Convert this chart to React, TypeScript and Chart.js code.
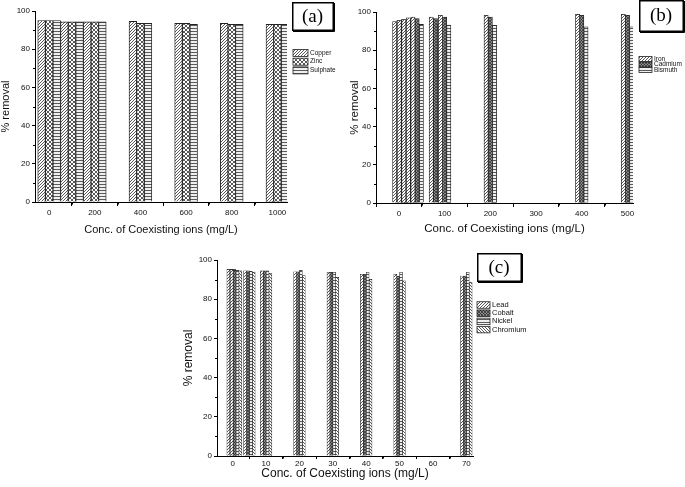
import React, { useEffect, useRef } from 'react';
import { Chart, registerables } from 'chart.js';
Chart.register(...registerables);

const FONT = "'Liberation Sans', Arial, sans-serif";
const SERIF = "'Liberation Serif', 'Times New Roman', serif";

// ---------- Panel (a) ----------
const concA = [0, 100, 200, 400, 600, 800, 1000];
const copperA = [95, 94.3, 94.3, 94.6, 93.5, 93.5, 93];
const zincA = [95, 94.3, 94.3, 93.5, 93.5, 93, 93];
const sulphateA = [95, 94.3, 94.3, 93.5, 93, 93, 93];
const xTicksA = [0, 200, 400, 600, 800, 1000];
const xMinorA = [100, 300, 500, 700, 900];

// ---------- Panel (b) ----------
const concB = [0, 10, 20, 30, 40, 80, 100, 200, 400, 500];
const ironB = [95, 95.5, 96, 97, 97.4, 97.4, 98.3, 98.3, 98.8, 98.8];
const cadmiumB = [95.5, 96, 95.5, 96.5, 96.5, 96.5, 97.4, 97.4, 98.3, 98.3];
const bismuthB = [95.5, 95, 94.5, 94, 93.5, 93.5, 93.2, 93, 92.2, 92.2];
const xTicksB = [0, 100, 200, 300, 400, 500];
const xMinorB = [50, 150, 250, 350, 450];

// ---------- Panel (c) ----------
const concC = [0, 1, 5, 10, 20, 30, 40, 50, 70];
const leadC = [95.2, 95, 94.5, 94.5, 94, 93.7, 92.7, 92.7, 91.8];
const cobaltC = [95.2, 94.7, 94.5, 94.5, 94, 93.7, 92.7, 91.8, 91.8];
const nickelC = [95.2, 94.7, 94.2, 94.5, 94.7, 93.7, 93.7, 93.7, 93.7];
const chromiumC = [94.7, 94.5, 93.8, 93.2, 92, 91.1, 90.1, 89.4, 88.6];
const xTicksC = [0, 10, 20, 30, 40, 50, 60, 70];
const xMinorC = [5, 15, 25, 35, 45, 55, 65];

const yTicks = [0, 20, 40, 60, 80, 100];
const yMinor = [10, 30, 50, 70, 90];

const X_TITLE = 'Conc. of Coexisting ions (mg/L)';
const Y_TITLE = '% removal';

type Kind = 'slash' | 'cross' | 'horiz' | 'dense' | 'back';

function makePattern(kind: Kind): CanvasPattern {
  const t = kind === 'cross' ? 4 : 3;
  const c = document.createElement('canvas');
  c.width = t;
  c.height = t;
  const g = c.getContext('2d')!;
  g.fillStyle = kind === 'dense' ? '#8a8a8a' : '#ffffff';
  g.fillRect(0, 0, t, t);
  g.strokeStyle = kind === 'dense' ? '#2a2a2a' : '#5a5a5a';
  g.lineWidth = kind === 'dense' ? 0.7 : kind === 'horiz' ? 1.2 : 1;
  const slash = () => {
    g.moveTo(0, t); g.lineTo(t, 0);
    g.moveTo(-t / 2, t / 2); g.lineTo(t / 2, -t / 2);
    g.moveTo(t / 2, t * 1.5); g.lineTo(t * 1.5, t / 2);
  };
  const back = () => {
    g.moveTo(0, 0); g.lineTo(t, t);
    g.moveTo(-t / 2, t / 2); g.lineTo(t / 2, t * 1.5);
    g.moveTo(t / 2, -t / 2); g.lineTo(t * 1.5, t / 2);
  };
  g.beginPath();
  if (kind === 'slash') slash();
  else if (kind === 'back') back();
  else if (kind === 'cross' || kind === 'dense') { slash(); back(); }
  else if (kind === 'horiz') { g.moveTo(0, 1.5); g.lineTo(t, 1.5); }
  g.stroke();
  return g.createPattern(c, 'repeat')!;
}

type Series = { label: string; values: number[]; kind: Kind };
type PanelCfg = {
  xs: number[];
  series: Series[];
  xMin: number; xMax: number;
  xTicks: number[]; xMinor: number[];
  barThickness: number; borderWidth: number;
  yWidth: number; xHeight: number;
  padTop: number; padRight: number;
  tickSize: number; titleSize: number;
  xTickLen: number; xTickPad: number;
  yTitlePad: number; xTitlePad: number;
  tag: string; tagBox: [number, number, number, number]; tagSize: number;
  legend: { x: number; y0: number; dy: number; w: number; h: number; font: number };
};

const panelA: PanelCfg = {
  xs: concA,
  series: [
    { label: 'Copper', values: copperA, kind: 'slash' },
    { label: 'Zinc', values: zincA, kind: 'cross' },
    { label: 'Sulphate', values: sulphateA, kind: 'horiz' },
  ],
  xMin: -62, xMax: 1042, xTicks: xTicksA, xMinor: xMinorA,
  barThickness: 7.6, borderWidth: 0.9,
  yWidth: 35, xHeight: 38, padTop: 11, padRight: 53,
  tickSize: 8, titleSize: 11, xTickLen: 4, xTickPad: 2, yTitlePad: 0, xTitlePad: 5,
  tag: '(a)', tagBox: [292, 2, 43, 30], tagSize: 19,
  legend: { x: 293, y0: 53, dy: 8.7, w: 15, h: 7, font: 6.5 },
};

const panelB: PanelCfg = {
  xs: concB,
  series: [
    { label: 'Iron', values: ironB, kind: 'slash' },
    { label: 'Cadmium', values: cadmiumB, kind: 'dense' },
    { label: 'Bismuth', values: bismuthB, kind: 'horiz' },
  ],
  xMin: -50, xMax: 512, xTicks: xTicksB, xMinor: xMinorB,
  barThickness: 4.2, borderWidth: 0.8,
  yWidth: 36, xHeight: 37, padTop: 12, padRight: 52,
  tickSize: 8, titleSize: 11.5, xTickLen: 4, xTickPad: 2, yTitlePad: 9.5, xTitlePad: 5,
  tag: '(b)', tagBox: [299, 0, 46, 33], tagSize: 19,
  legend: { x: 299, y0: 59, dy: 5.5, w: 13, h: 5, font: 6.5 },
};

const panelC: PanelCfg = {
  xs: concC,
  series: [
    { label: 'Lead', values: leadC, kind: 'slash' },
    { label: 'Cobalt', values: cobaltC, kind: 'dense' },
    { label: 'Nickel', values: nickelC, kind: 'horiz' },
    { label: 'Chromium', values: chromiumC, kind: 'back' },
  ],
  xMin: -4.7, xMax: 72, xTicks: xTicksC, xMinor: xMinorC,
  barThickness: 2.9, borderWidth: 0.6,
  yWidth: 47, xHeight: 31, padTop: 20, padRight: 57,
  tickSize: 8, titleSize: 12, xTickLen: 3, xTickPad: 0, yTitlePad: 13, xTitlePad: 7,
  tag: '(c)', tagBox: [307, 13, 46, 30], tagSize: 19,
  legend: { x: 307, y0: 65, dy: 8.2, w: 13, h: 6.5, font: 7.5 },
};

function makeChart(canvas: HTMLCanvasElement, cfg: PanelCfg): Chart {
  const patterns = cfg.series.map((s) => makePattern(s.kind));
  const extras = {
    id: 'extras',
    afterDraw(chart: any) {
      const ctx: CanvasRenderingContext2D = chart.ctx;
      const { left, bottom } = chart.chartArea;
      const xs = chart.scales.x;
      const ys = chart.scales.y;
      ctx.save();
      // minor ticks
      ctx.strokeStyle = '#000';
      ctx.lineWidth = 1;
      ctx.beginPath();
      cfg.xMinor.forEach((v) => {
        const px = Math.round(xs.getPixelForValue(v)) + 0.5;
        ctx.moveTo(px, bottom);
        ctx.lineTo(px, bottom + 2.5);
      });
      yMinor.forEach((v) => {
        const py = Math.round(ys.getPixelForValue(v)) + 0.5;
        ctx.moveTo(left, py);
        ctx.lineTo(left - 2, py);
      });
      ctx.stroke();
      // legend
      const lg = cfg.legend;
      cfg.series.forEach((s, i) => {
        const cy = lg.y0 + i * lg.dy;
        ctx.fillStyle = patterns[i];
        ctx.fillRect(lg.x, cy - lg.h / 2, lg.w, lg.h);
        ctx.strokeStyle = '#222';
        ctx.lineWidth = 0.8;
        ctx.strokeRect(lg.x, cy - lg.h / 2, lg.w, lg.h);
        ctx.fillStyle = '#111';
        ctx.font = `${lg.font}px ${FONT}`;
        ctx.textAlign = 'left';
        ctx.textBaseline = 'middle';
        ctx.fillText(s.label, lg.x + lg.w + 2, cy);
      });
      // tag box
      const [bx, by, bw, bh] = cfg.tagBox;
      ctx.fillStyle = '#fff';
      ctx.fillRect(bx, by, bw, bh);
      ctx.strokeStyle = '#000';
      ctx.lineWidth = 1.5;
      ctx.strokeRect(bx + 0.75, by + 0.75, bw - 2.5, bh - 2.5);
      ctx.lineWidth = 1;
      ctx.beginPath();
      ctx.moveTo(bx + bw - 0.5, by + 1);
      ctx.lineTo(bx + bw - 0.5, by + bh - 0.5);
      ctx.lineTo(bx + 1, by + bh - 0.5);
      ctx.stroke();
      ctx.fillStyle = '#000';
      ctx.font = `${cfg.tagSize}px ${SERIF}`;
      ctx.textAlign = 'center';
      ctx.textBaseline = 'middle';
      ctx.fillText(cfg.tag, bx + bw / 2 - 1, by + bh / 2);
      ctx.restore();
    },
  };

  return new Chart(canvas, {
    type: 'bar',
    data: {
      datasets: cfg.series.map((s, i) => ({
        label: s.label,
        data: cfg.xs.map((x, j) => ({ x, y: s.values[j] })),
        backgroundColor: patterns[i],
        borderColor: '#222',
        borderWidth: cfg.borderWidth,
        barThickness: cfg.barThickness,
      })),
    } as any,
    options: {
      responsive: false,
      animation: false,
      layout: { padding: { left: 0, right: cfg.padRight, top: cfg.padTop, bottom: 0 } },
      plugins: { legend: { display: false }, tooltip: { enabled: false } },
      scales: {
        x: {
          type: 'linear',
          min: cfg.xMin,
          max: cfg.xMax,
          offset: false,
          afterBuildTicks: (s: any) => { s.ticks = cfg.xTicks.map((v) => ({ value: v })); },
          afterFit: (s: any) => { s.height = cfg.xHeight; },
          grid: { drawOnChartArea: false, drawTicks: true, tickLength: cfg.xTickLen, color: '#000', lineWidth: 1 },
          border: { color: '#000', width: 1 },
          ticks: {
            font: { family: FONT, size: cfg.tickSize }, color: '#111', padding: cfg.xTickPad,
            maxRotation: 0, autoSkip: false, callback: (v: any) => String(v),
          },
          title: {
            display: true, text: X_TITLE, color: '#111',
            font: { family: FONT, size: cfg.titleSize, lineHeight: 1 },
            padding: { top: 0, bottom: cfg.xTitlePad },
          },
        },
        y: {
          type: 'linear',
          min: 0,
          max: 100,
          afterBuildTicks: (s: any) => { s.ticks = yTicks.map((v) => ({ value: v })); },
          afterFit: (s: any) => { s.width = cfg.yWidth; },
          grid: { drawOnChartArea: false, drawTicks: true, tickLength: 3, color: '#000', lineWidth: 1 },
          border: { color: '#000', width: 1 },
          ticks: { font: { family: FONT, size: cfg.tickSize }, color: '#111', padding: 2, callback: (v: any) => String(v) },
          title: {
            display: true, text: Y_TITLE, color: '#111',
            font: { family: FONT, size: cfg.titleSize, lineHeight: 1 },
            padding: { top: cfg.yTitlePad, bottom: 0 },
          },
        },
      },
    } as any,
    plugins: [extras],
  });
}

export default function App() {
  const ra = useRef<HTMLCanvasElement>(null);
  const rb = useRef<HTMLCanvasElement>(null);
  const rc = useRef<HTMLCanvasElement>(null);
  useEffect(() => {
    const charts = [
      makeChart(ra.current!, panelA),
      makeChart(rb.current!, panelB),
      makeChart(rc.current!, panelC),
    ];
    return () => charts.forEach((c) => c.destroy());
  }, []);
  return (
    <div style={{ position: 'absolute', left: 0, top: 0, width: 685, height: 487, background: '#fff', overflow: 'hidden' }}>
      <canvas ref={ra} width={340} height={240} style={{ position: 'absolute', left: 0, top: 0 }} />
      <canvas ref={rb} width={345} height={240} style={{ position: 'absolute', left: 340, top: 0 }} />
      <canvas ref={rc} width={360} height={247} style={{ position: 'absolute', left: 170, top: 240 }} />
    </div>
  );
}
